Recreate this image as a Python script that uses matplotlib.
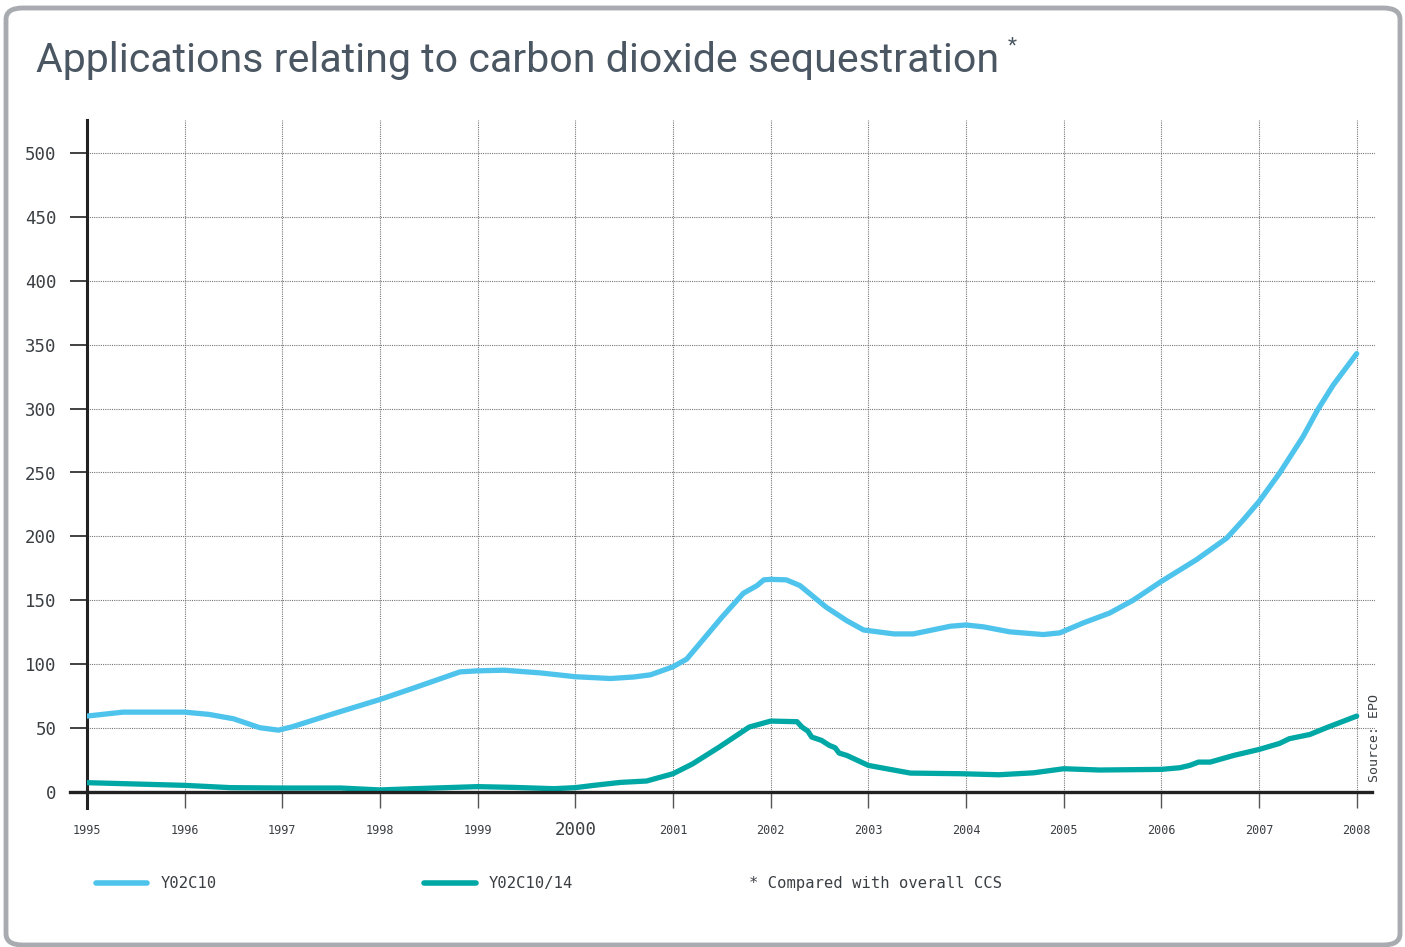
import matplotlib
matplotlib.use("Agg")
import matplotlib.pyplot as plt
from matplotlib.lines import Line2D
from matplotlib.patches import FancyBboxPatch

# ---- data ----
title = "Applications relating to carbon dioxide sequestration"
series_names = ["Y02C10", "Y02C10/14"]
footnote = "* Compared with overall CCS"
source = "Source: EPO"

x_years = list(range(1995, 2009))
y_ticks = [0, 50, 100, 150, 200, 250, 300, 350, 400, 450, 500]

a_x = [1995.0, 1995.37, 1996.0, 1996.25, 1996.5, 1996.77, 1996.96, 1997.1, 1997.5, 1998.0,
       1998.35, 1998.82, 1999.0, 1999.27, 1999.64, 2000.0, 2000.36, 2000.6, 2000.77, 2001.0,
       2001.14, 2001.3, 2001.5, 2001.72, 2001.86, 2001.93, 2002.0, 2002.16, 2002.3, 2002.57,
       2002.78, 2002.95, 2003.26, 2003.46, 2003.84, 2004.0, 2004.18, 2004.45, 2004.79, 2004.96,
       2005.2, 2005.47, 2005.71, 2006.0, 2006.36, 2006.67, 2006.84, 2007.0, 2007.21, 2007.45,
       2007.6, 2007.76, 2008.0]
a_y = [59.4, 62.5, 62.5, 60.7, 57.3, 50.3, 48.4, 51.0, 60.7, 72.4,
       81.5, 94.0, 94.8, 95.3, 93.2, 90.2, 88.8, 90.0, 91.7, 98.0,
       104.0, 118.5, 136.7, 155.5, 161.5, 166.0, 166.4, 166.0, 161.5, 144.5,
       134.0, 126.8, 123.7, 123.7, 129.7, 130.7, 129.2, 125.3, 123.2, 124.5,
       132.3, 140.0, 150.0, 164.8, 181.8, 198.7, 213.0, 227.3, 249.5, 278.0,
       299.0, 318.5, 343.0]

b_x = [1995.0, 1996.0, 1996.47, 1997.0, 1997.6, 1998.0, 1998.35, 1999.0, 1999.37, 1999.78,
       2000.0, 2000.19, 2000.46, 2000.73, 2001.0, 2001.2, 2001.47, 2001.78, 2002.0, 2002.27,
       2002.32, 2002.38, 2002.42, 2002.52, 2002.6, 2002.66, 2002.7, 2002.78, 2003.0, 2003.43,
       2003.94, 2004.34, 2004.69, 2005.0, 2005.37, 2006.0, 2006.19, 2006.29, 2006.38, 2006.5,
       2006.74, 2007.0, 2007.21, 2007.31, 2007.52, 2007.69, 2008.0]
b_y = [7.3, 5.2, 3.4, 3.1, 3.1, 1.6, 2.6, 4.2, 3.6, 2.6,
       3.4, 5.2, 7.5, 8.6, 14.3, 22.0, 35.0, 50.8, 55.5, 55.0,
       50.8, 47.7, 43.0, 40.4, 36.5, 34.6, 30.5, 28.6, 20.8, 14.8,
       14.3, 13.5, 15.0, 18.2, 17.2, 17.7, 19.0, 20.8, 23.4, 23.4,
       28.6, 33.3, 38.0, 41.7, 45.0, 50.3, 59.4]

# ---- style ----
c_a = "#4ec4ec"
c_b = "#00a8a5"
txt = "#3a3f44"
mono = ["DejaVu Sans Mono"]
title_font = ["Roboto", "DejaVu Sans"]

fig = plt.figure(figsize=(14.05, 9.47), dpi=100)
W, H = 1405, 947

# rounded border
fig.patches.append(FancyBboxPatch((6 / W, 2 / H), 1394 / W, 937 / H,
                                  boxstyle="round,pad=0,rounding_size=0.012",
                                  transform=fig.transFigure, fill=False,
                                  edgecolor="#a8acb0", linewidth=3.5))

ax = fig.add_axes([87 / W, (H - 808) / H, 1288 / W, (808 - 120) / H])
ax.set_xlim(1995, 1995 + 1288 / 97.67)
ax.set_ylim(-16 / 1.278, (792 - 120) / 1.278)

ax.plot(a_x, a_y, color=c_a, lw=3.8, solid_capstyle="round", solid_joinstyle="round", zorder=4)
ax.plot(b_x, b_y, color=c_b, lw=3.8, solid_capstyle="round", solid_joinstyle="round", zorder=4)

for s in ["top", "right", "bottom"]:
    ax.spines[s].set_visible(False)
ax.spines["left"].set_linewidth(2.2)
ax.spines["left"].set_color("#222222")

ax.axhline(0, xmin=-17 / 1288, xmax=1285 / 1288, color="#222222", lw=2.4, clip_on=False, zorder=5)

ax.set_yticks(y_ticks)
ax.set_yticklabels([str(v) for v in y_ticks], fontfamily=mono, fontsize=12.5, color=txt)
ax.tick_params(axis="y", direction="out", length=12, width=1.3, color="#333333", pad=10)

ax.set_xticks(x_years)
labels = ax.set_xticklabels([str(v) for v in x_years], fontfamily=mono, fontsize=8.5, color=txt)
for lab in labels:
    lab.set_verticalalignment("center")
    if lab.get_text() == "2000":
        lab.set_fontsize(12.5)
ax.tick_params(axis="x", direction="in", length=11.5, width=1.0, color="#555555", pad=16)

for v in y_ticks[1:]:
    ax.axhline(v, color="#777777", lw=0.8, ls=(0, (1, 1)), zorder=1)
for yr in x_years[1:]:
    ax.axvline(yr, ymin=16 / 688, ymax=1, color="#777777", lw=0.8, ls=(0, (1, 1)), zorder=1)

# title, fitted to the reference width
t = fig.text(36 / W, 1 - 61 / H, title, fontsize=32, color="#4a5662",
             family=title_font, va="center", ha="left")
r = fig.canvas.get_renderer()
w = t.get_window_extent(r).width
t.set_fontsize(32 * 965 / w)
fig.text(1008 / W, 1 - 46 / H, "*", fontsize=15, color="#4a5662", va="center", ha="left",
         family=title_font)

# legend
ly = 1 - 883 / H
fig.add_artist(Line2D([96 / W, 147 / W], [ly, ly], color=c_a, lw=4, solid_capstyle="round"))
fig.text(161 / W, ly, series_names[0], fontfamily=mono, fontsize=11.2, color=txt, va="center")
fig.add_artist(Line2D([424 / W, 476 / W], [ly, ly], color=c_b, lw=4, solid_capstyle="round"))
fig.text(489 / W, ly, series_names[1], fontfamily=mono, fontsize=11.2, color=txt, va="center")
fig.text(749 / W, ly, footnote, fontfamily=mono, fontsize=11.2, color=txt, va="center")

# source
fig.text(1375 / W, 1 - 738 / H, source, fontfamily=mono, fontsize=9.5, color=txt,
         rotation=90, va="center", ha="center")

fig.savefig("out.png", dpi=100, facecolor="white")
